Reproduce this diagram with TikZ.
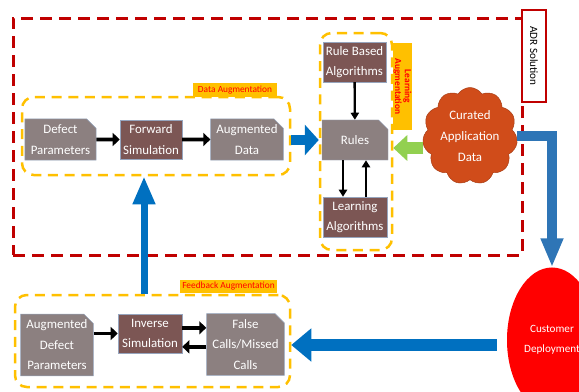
\documentclass[tikz,border=0pt]{standalone}
\usepackage{fontspec}
\setmainfont{Carlito}
\usepackage{tikz}
\usetikzlibrary{shapes.geometric, shapes.misc, shapes.symbols, arrows.meta, positioning, fit}
\definecolor{myred}{RGB}{192,0,0}
\definecolor{myyellow}{RGB}{255,192,0}
\definecolor{mygray}{RGB}{140,128,128}
\definecolor{mybrown}{RGB}{124,86,84}
\definecolor{myedge}{RGB}{150,165,190}
\definecolor{myblue}{RGB}{0,112,192}
\definecolor{mysteel}{RGB}{46,117,182}
\definecolor{mygreen}{RGB}{146,208,80}
\definecolor{myorange}{RGB}{208,76,26}
\tikzset{
  graybox/.style={chamfered rectangle, chamfered rectangle corners=north east,
    chamfered rectangle xsep=4pt, chamfered rectangle ysep=4pt,
    draw=myedge, fill=mygray, text=white, align=center, inner sep=1pt,
    font=\fontsize{11}{17.5}\selectfont, line width=0.4pt},
  brownbox/.style={rectangle, draw=myedge, fill=mybrown, text=white,
    align=center, inner sep=1pt, font=\fontsize{11}{17.5}\selectfont,
    line width=0.4pt},
  augbox/.style={draw=myyellow, dash pattern=on 0.3cm off 0.2cm,
    line width=0.075cm, rounded corners=0.35cm, inner sep=0pt},
  adrline/.style={draw=myred, dash pattern=on 0.36cm off 0.21cm,
    line width=0.09cm, inner sep=0pt},
  tagbox/.style={fill=myyellow, text=red, inner sep=0pt,
    font=\fontsize{8}{8}\selectfont},
  adrtag/.style={draw=myred, fill=white, line width=0.06cm, inner sep=0pt,
    font=\fontsize{9.5}{10}\selectfont},
  cloudnode/.style={cloud, cloud puffs=11, cloud puff arc=115, aspect=1,
    draw=myorange!80!black, fill=myorange, text=white, align=center,
    minimum width=2.85cm, minimum height=2.91cm, inner sep=0pt,
    font=\fontsize{11}{18}\selectfont},
  custnode/.style={ellipse, fill=red, text=white, align=center,
    minimum width=2.7cm, minimum height=4.35cm, inner sep=0pt,
    font=\fontsize{9.5}{17}\selectfont},
  arrow/.style={-{Triangle[length=6pt,width=11pt]}, line width=3pt, color=black},
  thinarrow/.style={-{Triangle[length=6pt,width=7pt]}, line width=2pt, color=black},
  fatarrow/.style={-{Triangle[length=0.42cm,width=0.9cm]}, line width=0.3cm, color=myblue}
}

\begin{document}
\begin{tikzpicture}[x=0.03cm, y=-0.03cm]
  \useasboundingbox (0,0) rectangle (579,392);

  % ADR solution frame
  \node[adrline, fit={(13,18) (522,255)}] (adr) {};
  \node[adrtag, rotate=-90, minimum width=2.76cm, minimum height=0.72cm] (adrlabel) at (534,56) {ADR Solution};

  % Data augmentation
  \node[graybox, minimum width=2.01cm, minimum height=1.17cm] (defpar) at (60.5,139.5) {Defect\\Parameters};
  \node[brownbox, minimum width=1.86cm, minimum height=1.17cm] (fwdsim) at (151,139.5) {Forward\\Simulation};
  \node[graybox, minimum width=2.16cm, minimum height=1.17cm] (augdata) at (247,139.5) {Augmented\\Data};
  \node[augbox, fit={(22,97) (290,175)}] (dataaug) {};
  \node[tagbox, minimum width=2.52cm, minimum height=0.42cm] (datatag) at (235,90) {Data Augmentation};

  % Learning augmentation
  \node[brownbox, minimum width=1.89cm, minimum height=1.2cm] (rulealg) at (354.5,62) {Rule Based\\Algorithms};
  \node[graybox, minimum width=1.98cm, minimum height=1.2cm] (rules) at (355,140) {Rules};
  \node[brownbox, minimum width=1.92cm, minimum height=1.2cm] (learnalg) at (355,217) {Learning\\Algorithms};
  \node[augbox, fit={(320,33) (392,250)}] (learnaug) {};
  \node[tagbox, rotate=-90, align=center, minimum width=2.61cm, minimum height=0.57cm,
    font=\fontsize{8}{8.5}\selectfont\bfseries] (learntag) at (402.5,86.5) {Learning\\Augmentation};

  \node[cloudnode] (cloud) at (470,136) {Curated\\Application\\Data};
  \node[custnode] (cust) at (552,340) {Customer\\Deployment};

  % Feedback augmentation
  \node[graybox, minimum width=2.1cm, minimum height=1.8cm] (augdef) at (57,345) {Augmented\\Defect\\Parameters};
  \node[brownbox, minimum width=1.92cm, minimum height=1.17cm] (invsim) at (150,333.5) {Inverse\\Simulation};
  \node[graybox, minimum width=2.25cm, minimum height=1.83cm] (falsecalls) at (245.5,344.5) {False\\Calls/Missed\\Calls};
  \node[augbox, fit={(15,295) (290,387)}] (feedaug) {};
  \node[tagbox, minimum width=2.91cm, minimum height=0.39cm] (feedtag) at (228.5,286.5) {Feedback Augmentation};

  % black connectors
  \draw[arrow] (defpar) -- (fwdsim);
  \draw[arrow] (fwdsim) -- (augdata);
  \draw[thinarrow] (rulealg) -- (rules);
  \draw[thinarrow] ([xshift=-0.36cm]rules.south) -- ([xshift=-0.36cm]learnalg.north);
  \draw[thinarrow] ([xshift=0.33cm]learnalg.north) -- ([xshift=0.33cm]rules.south);
  \draw[arrow] (augdef.east |- invsim.west) -- (invsim.west);
  \draw[arrow] ([yshift=0.17cm]invsim.east) -- ([yshift=0.17cm]falsecalls.west |- invsim.east);
  \draw[arrow] ([yshift=-0.4cm]falsecalls.west |- invsim.east) -- ([yshift=-0.4cm]invsim.east);

  % block arrows
  \draw[fatarrow] (dataaug.east |- rules.west) -- (learnaug.west |- rules.west);
  \draw[fatarrow, color=mygreen, line width=0.36cm, -{Triangle[length=0.42cm,width=0.75cm]}]
    ([yshift=-0.24cm]cloud.west |- rules.west) -- ([yshift=-0.24cm]learnaug.east |- rules.west);
  \draw[fatarrow, color=mysteel, -{Triangle[length=0.87cm,width=0.63cm]}] (cloud.east) -| (cust.north);
  \draw[fatarrow, line width=0.36cm, -{Triangle[length=0.6cm,width=0.96cm]}, shorten <=0.3cm]
    ([yshift=-0.15cm]cust.west) -- ([yshift=-0.15cm]feedaug.east |- cust.west);
  \draw[fatarrow, line width=0.21cm, -{Triangle[length=0.84cm,width=0.63cm]}]
    ([xshift=-0.18cm]invsim.north |- feedaug.north) -- ([xshift=-0.18cm]invsim.north |- dataaug.south);
\end{tikzpicture}
\end{document}
